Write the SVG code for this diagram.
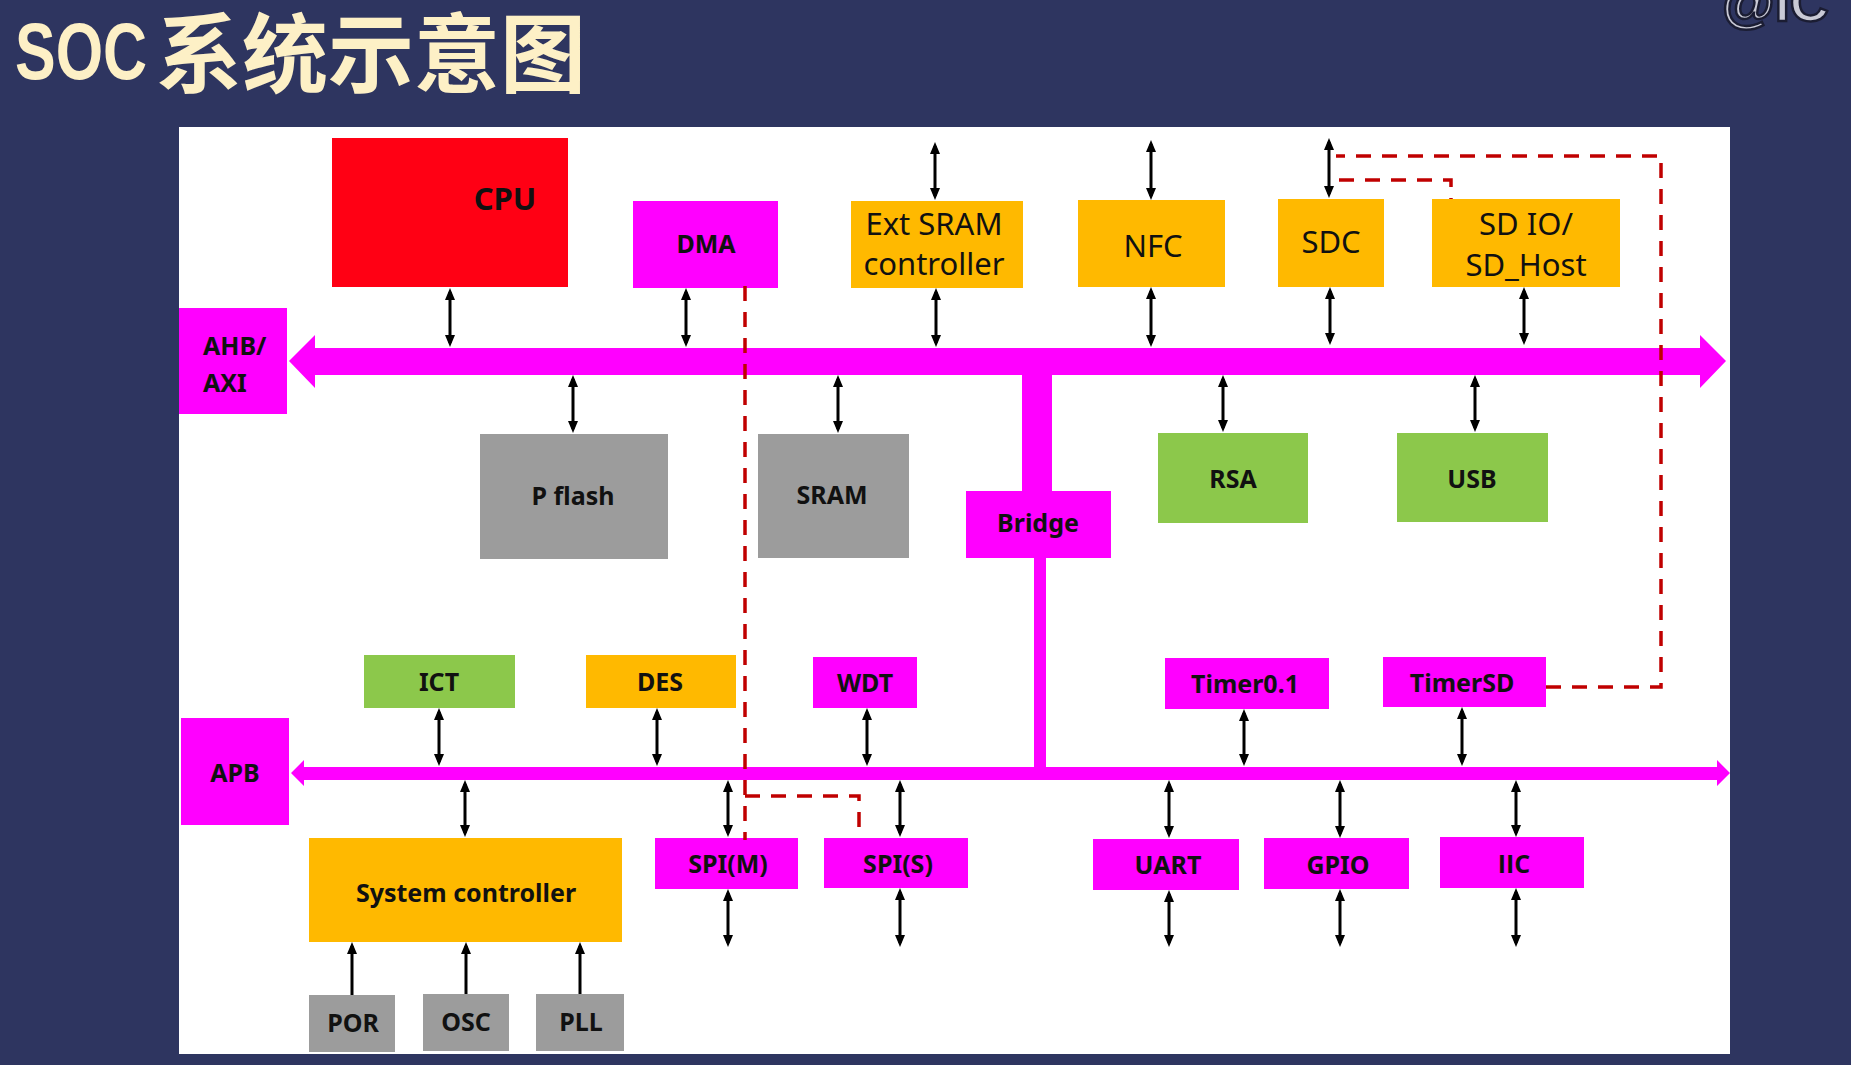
<svg xmlns="http://www.w3.org/2000/svg" width="1851" height="1065" viewBox="0 0 1851 1065">
  <style>
    .bg{fill:#2e3560}
    .panel{fill:#ffffff}
    .mag{fill:#ff00ff}
    .org{fill:#ffb900}
    .grn{fill:#8cc84b}
    .gry{fill:#9c9c9c}
    .red{fill:#ff0014}
    .lb{font-family:"Noto Sans","Liberation Sans",sans-serif;font-weight:700;font-size:25px;fill:#111111;text-anchor:middle}
    .lr{font-family:"Noto Sans","Liberation Sans",sans-serif;font-weight:400;font-size:31px;fill:#111111;text-anchor:middle}
    .plain{font-family:"Open Sans","Liberation Sans",sans-serif}
    .left{text-anchor:start}
    .big{font-size:31px}
    .link{stroke:#000000;stroke-width:3;fill:none;marker-end:url(#head)}
    .both{marker-start:url(#head)}
    .dash{stroke:#c00000;stroke-width:3.5;fill:none;stroke-dasharray:15 11}
    .title{font-weight:700;fill:#fdf0c6}
  </style>
  <defs>
    <marker id="head" viewBox="0 0 12 10" refX="8" refY="5" markerWidth="12" markerHeight="10" markerUnits="userSpaceOnUse" orient="auto-start-reverse">
      <path d="M0,0L12,5L0,10z" fill="#000000"/>
    </marker>
  </defs>

  <!-- backdrop and title -->
  <rect class="bg" x="0" y="0" width="1851" height="1065"/>
  <text class="title" x="15" y="79" font-family="'Liberation Sans',sans-serif" font-size="80" textLength="132" lengthAdjust="spacingAndGlyphs">SOC</text>
  <text class="title" x="156" y="86" font-family="'Noto Sans CJK SC',sans-serif" font-size="86">系统示意图</text>
  <text x="1722" y="21" font-family="'Liberation Sans',sans-serif" font-weight="700" font-size="54" fill="#c9cad6" stroke="#1b1d33" stroke-width="2.5">@IC</text>

  <rect class="panel" x="179" y="127" width="1551" height="927"/>

  <!-- buses -->
  <g id="ahb-bus">
    <polygon class="mag" points="289,361 315,335 315,348 1700,348 1700,335 1726,361 1700,388 1700,375 315,375 315,388"/>
    <rect class="mag" x="1022" y="374" width="30" height="118"/>
  </g>
  <g id="apb-bus">
    <polygon class="mag" points="291,773 304,760 304,767 1717,767 1717,760 1730,773 1717,786 1717,780 304,780 304,786"/>
    <rect class="mag" x="1034" y="557" width="12" height="211"/>
  </g>

  <!-- blocks -->
  <g id="cpu"><rect class="red" x="332" y="138" width="236" height="149"/><text class="lb big" x="505" y="210">CPU</text></g>
  <g id="dma"><rect class="mag" x="633" y="201" width="145" height="87"/><text class="lb" x="706" y="253">DMA</text></g>
  <g id="ext-sram"><rect class="org" x="851" y="201" width="172" height="87"/><text class="lr" x="934" y="235">Ext SRAM</text><text class="lr" x="934" y="275">controller</text></g>
  <g id="nfc"><rect class="org" x="1078" y="200" width="147" height="87"/><text class="lr" x="1153" y="257">NFC</text></g>
  <g id="sdc"><rect class="org" x="1278" y="199" width="106" height="88"/><text class="lr" x="1331" y="253">SDC</text></g>
  <g id="sd-host"><rect class="org" x="1432" y="199" width="188" height="88"/><text class="lr" x="1526" y="235">SD IO/</text><text class="lr" x="1526" y="276">SD_Host</text></g>
  <g id="ahb-label"><rect class="mag" x="179" y="308" width="108" height="106"/><text class="lb left" x="203" y="355">AHB/</text><text class="lb left" x="203" y="392">AXI</text></g>
  <g id="pflash"><rect class="gry" x="480" y="434" width="188" height="125"/><text class="lb" x="573" y="505">P flash</text></g>
  <g id="sram"><rect class="gry" x="758" y="434" width="151" height="124"/><text class="lb" x="832" y="504">SRAM</text></g>
  <g id="bridge"><rect class="mag" x="966" y="491" width="145" height="67"/><text class="lb" x="1038" y="532">Bridge</text></g>
  <g id="rsa"><rect class="grn" x="1158" y="433" width="150" height="90"/><text class="lb" x="1233" y="488">RSA</text></g>
  <g id="usb"><rect class="grn" x="1397" y="433" width="151" height="89"/><text class="lb" x="1472" y="488">USB</text></g>
  <g id="ict"><rect class="grn" x="364" y="655" width="151" height="53"/><text class="lb" x="439" y="691">ICT</text></g>
  <g id="des"><rect class="org" x="586" y="655" width="150" height="53"/><text class="lb" x="660" y="691">DES</text></g>
  <g id="wdt"><rect class="mag" x="813" y="657" width="104" height="51"/><text class="lb" x="865" y="692">WDT</text></g>
  <g id="timer01"><rect class="mag" x="1165" y="658" width="164" height="51"/><text class="lb" x="1245" y="693">Timer0.1</text></g>
  <g id="timersd"><rect class="mag" x="1383" y="657" width="163" height="50"/><text class="lb" x="1462" y="692">TimerSD</text></g>
  <g id="apb-label"><rect class="mag" x="181" y="718" width="108" height="107"/><text class="lb" x="235" y="782">APB</text></g>
  <g id="sys-ctrl"><rect class="org" x="309" y="838" width="313" height="104"/><text class="lb" x="466" y="902">System controller</text></g>
  <g id="spi-m"><rect class="mag" x="655" y="838" width="143" height="51"/><text class="lb" x="728" y="873">SPI(M)</text></g>
  <g id="spi-s"><rect class="mag" x="824" y="838" width="144" height="50"/><text class="lb" x="898" y="873">SPI(S)</text></g>
  <g id="uart"><rect class="mag" x="1093" y="839" width="146" height="51"/><text class="lb" x="1168" y="874">UART</text></g>
  <g id="gpio"><rect class="mag" x="1264" y="838" width="145" height="51"/><text class="lb" x="1338" y="874">GPIO</text></g>
  <g id="iic"><rect class="mag" x="1440" y="837" width="144" height="51"/><text class="lb plain" x="1514" y="873">IIC</text></g>
  <g id="por"><rect class="gry" x="309" y="995" width="86" height="57"/><text class="lb" x="353" y="1032">POR</text></g>
  <g id="osc"><rect class="gry" x="423" y="994" width="86" height="57"/><text class="lb" x="466" y="1031">OSC</text></g>
  <g id="pll"><rect class="gry" x="536" y="994" width="88" height="57"/><text class="lb" x="581" y="1031">PLL</text></g>

  <!-- connectors -->
  <g id="connectors">
    <path class="link both" d="M450,292V343"/>
    <path class="link both" d="M686,292V343"/>
    <path class="link both" d="M935,146V196"/>
    <path class="link both" d="M936,292V343"/>
    <path class="link both" d="M1151,144V196"/>
    <path class="link both" d="M1151,291V343"/>
    <path class="link both" d="M1329,142V194"/>
    <path class="link both" d="M1330,291V341"/>
    <path class="link both" d="M1524,291V341"/>
    <path class="link both" d="M573,379V429"/>
    <path class="link both" d="M838,379V429"/>
    <path class="link both" d="M1223,379V428"/>
    <path class="link both" d="M1475,379V428"/>
    <path class="link both" d="M439,712V762"/>
    <path class="link both" d="M657,712V762"/>
    <path class="link both" d="M867,712V762"/>
    <path class="link both" d="M1244,713V762"/>
    <path class="link both" d="M1462,711V762"/>
    <path class="link both" d="M465,784V833"/>
    <path class="link both" d="M728,784V833"/>
    <path class="link both" d="M728,893V943"/>
    <path class="link both" d="M900,784V833"/>
    <path class="link both" d="M900,892V943"/>
    <path class="link both" d="M1169,784V834"/>
    <path class="link both" d="M1169,894V943"/>
    <path class="link both" d="M1340,784V834"/>
    <path class="link both" d="M1340,893V943"/>
    <path class="link both" d="M1516,784V833"/>
    <path class="link both" d="M1516,892V943"/>
    <path class="link" d="M352,995V946"/>
    <path class="link" d="M466,994V946"/>
    <path class="link" d="M580,994V946"/>
    <path class="dash" d="M745,286V840"/>
    <path class="dash" d="M745,796H859V838"/>
    <path class="dash" d="M1546,687H1661V156H1336"/>
    <path class="dash" d="M1339,180H1451V199"/>
  </g>
</svg>
